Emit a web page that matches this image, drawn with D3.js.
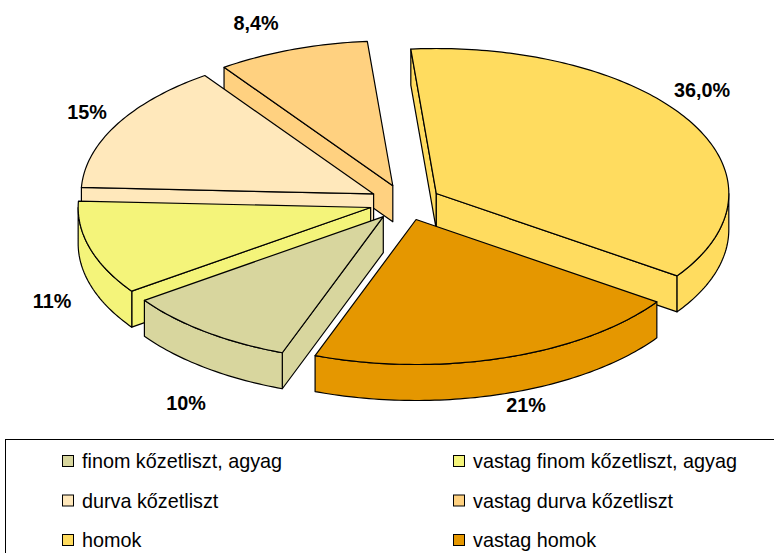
<!DOCTYPE html>
<html>
<head>
<meta charset="utf-8">
<script src="https://cdn.jsdelivr.net/npm/d3@7/dist/d3.min.js"></script>
<style>html,body{margin:0;padding:0;background:#fff;overflow:hidden}svg{display:block}</style>
</head>
<body>
<svg id="c" width="774" height="553"></svg>
<script>
const categories = ["finom kőzetliszt, agyag","vastag finom kőzetliszt, agyag","durva kőzetliszt","vastag durva kőzetliszt","homok","vastag homok"];
const shares = [9.6,10.5,14.5,8.4,36,21];
const valueLabels = ["10%","11%","15%","8,4%","36,0%","21%"];
const colors = ["#D8D69E","#F4F47A","#FFE8BB","#FFD180","#FFDC5F","#E59700"];

const W = 774, H = 553;
const cx = 405.2, cy = 202.5, rx = 292.5, ry = 145, depth = 36, explode = 36;
const firstAngle = 200.2 * Math.PI / 180;
const paintOrder = [4,3,2,1,0,5];
const labelAnchors = [[186,403],[52,301],[87,112],[256,23],[702,90],[526,405]];

const svg = d3.select("#c");
svg.append("rect").attr("width",W).attr("height",H).attr("fill","#fff");

const sx = d3.scaleLinear().domain([-1,1]).range([-rx,rx]);
const sy = d3.scaleLinear().domain([-1,1]).range([-ry,ry]);
const pie = d3.pie().sort(null).value(d=>d).startAngle(firstAngle).endAngle(firstAngle+2*Math.PI);
const arcs = pie(shares);
const line = d3.line().x(d=>d[0]).y(d=>d[1]);

function pt(a, ox, oy){ return [ox+sx(Math.sin(a)), oy+sy(-Math.cos(a))]; }
function rim(a0,a1,ox,oy){
  const n = Math.max(2,Math.ceil((a1-a0)/(Math.PI/180)));
  return d3.range(n+1).map(i=>pt(a0+(a1-a0)*i/n,ox,oy));
}
const g = svg.append("g").attr("stroke","#000").attr("stroke-width",1.2).attr("stroke-linejoin","round");

paintOrder.forEach(i=>{
  const d = arcs[i], a0=d.startAngle, a1=d.endAngle, mid=(a0+a1)/2;
  const ox = cx+explode*Math.sin(mid), oy = cy-explode*(ry/rx)*Math.cos(mid);
  const fill = colors[i];
  const sl = g.append("g").attr("fill",fill);
  const wall = (a)=>{
    const o = pt(a,ox,oy);
    sl.append("path").attr("d",line([[ox,oy],o,[o[0],o[1]+depth],[ox,oy+depth]])+"Z");
  };
  if(Math.sin(a0)<0) wall(a0);
  if(Math.sin(a1)>0) wall(a1);
  const lo = Math.PI/2, hi = 3*Math.PI/2;
  [0,2*Math.PI].forEach(sh=>{
    const s = Math.max(a0,lo+sh), e = Math.min(a1,hi+sh);
    if(e>s){
      const top = rim(s,e,ox,oy);
      const bot = top.map(p=>[p[0],p[1]+depth]).reverse();
      sl.append("path").attr("d",line(top.concat(bot))+"Z");
    }
  });
  sl.append("path").attr("d",line([[ox,oy]].concat(rim(a0,a1,ox,oy)))+"Z");
});

svg.append("g").selectAll("text").data(valueLabels).join("text")
  .attr("x",(d,i)=>labelAnchors[i][0]).attr("y",(d,i)=>labelAnchors[i][1])
  .attr("text-anchor","middle").attr("dominant-baseline","central")
  .attr("font-family","'Liberation Sans',Arial,sans-serif")
  .attr("font-weight","bold").attr("font-size",19.8).attr("fill","#000")
  .text(d=>d);

svg.append("rect").attr("x",5.5).attr("y",439.5).attr("width",900).attr("height",300)
  .attr("fill","#fff").attr("stroke","#000").attr("stroke-width",1);
const colX = d3.scalePoint().domain([0,1]).range([62,453]);
const rowY = d3.scalePoint().domain([0,1,2]).range([461,540]);
const lg = svg.append("g").selectAll("g").data(categories).join("g")
  .attr("transform",(d,i)=>`translate(${colX(i%2)},${rowY(Math.floor(i/2))})`);
lg.append("rect").attr("x",0.5).attr("y",-5.5).attr("width",11).attr("height",11)
  .attr("fill",(d,i)=>colors[i]).attr("stroke","#000").attr("stroke-width",1);
lg.append("text").attr("x",20).attr("y",0).attr("dominant-baseline","central")
  .attr("font-family","'Liberation Sans',Arial,sans-serif").attr("font-size",19.8).attr("fill","#000")
  .text(d=>d);
</script>
</body>
</html>
